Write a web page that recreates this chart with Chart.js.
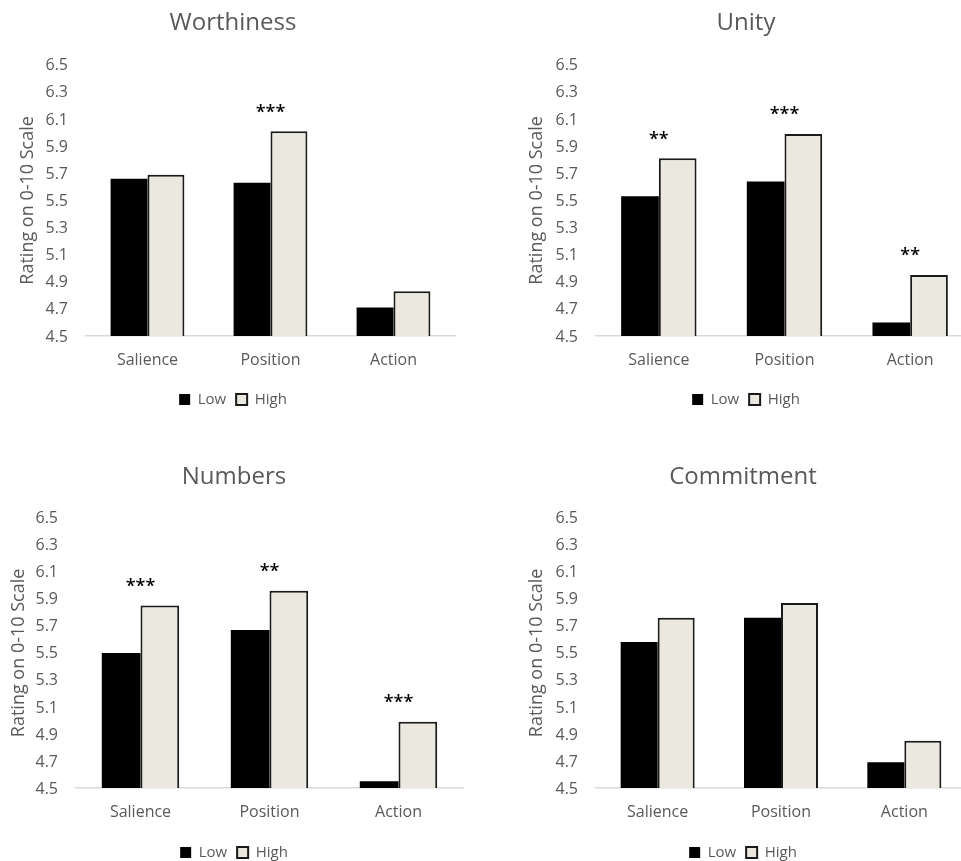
<!DOCTYPE html>
<html>
<head>
<meta charset="utf-8">
<title>Ratings by framing</title>
<script src="https://cdn.jsdelivr.net/npm/chart.js@4.4.1/dist/chart.umd.min.js"></script>
<style>
  html, body { margin: 0; padding: 0; background: #fff; overflow: hidden; }
  #wrap { position: relative; width: 961px; height: 861px; overflow: hidden; }
  #wrap canvas { position: absolute; }
</style>
</head>
<body>
<div id="wrap">
  <canvas id="c1"></canvas>
  <canvas id="c2"></canvas>
  <canvas id="c3"></canvas>
  <canvas id="c4"></canvas>
</div>
<script>
// data
const categories = ["Salience", "Position", "Action"];
const seriesNames = ["Low", "High"];

const worthLow = [5.66, 5.63, 4.71];
const worthHigh = [5.69, 6.01, 4.83];
const worthStars = ["", "***", ""];

const unityLow = [5.53, 5.64, 4.60];
const unityHigh = [5.81, 5.99, 4.95];
const unityStars = ["**", "***", "**"];

const numbersLow = [5.50, 5.67, 4.55];
const numbersHigh = [5.85, 5.96, 4.99];
const numbersStars = ["***", "**", "***"];

const commitLow = [5.58, 5.76, 4.69];
const commitHigh = [5.76, 5.87, 4.85];
const commitStars = ["", "", ""];

const yMin = 4.5;
const yMax = 6.5;
const yStep = 0.2;
const yTitle = "Rating on 0-10 Scale";

// layout per panel (canvas placement + paddings)
const panels = [
  { id: "c1", title: "Worthiness", low: worthLow, high: worthHigh, stars: worthStars,
    left: 0, top: 0, w: 480, h: 420, padL: 11, padR: 25, yW: 75, yTitlePad: 6, titleTop: 9, titleBottom: 27, xH: 46 },
  { id: "c2", title: "Unity", low: unityLow, high: unityHigh, stars: unityStars,
    left: 480, top: 0, w: 493, h: 420, padL: 39, padR: 0, yW: 77, yTitlePad: 7, titleTop: 9, titleBottom: 27, xH: 46 },
  { id: "c3", title: "Numbers", low: numbersLow, high: numbersHigh, stars: numbersStars,
    left: 0, top: 440, w: 480, h: 433, padL: 5, padR: 17, yW: 71, yTitlePad: 3, titleTop: 23, titleBottom: 26, xH: 47 },
  { id: "c4", title: "Commitment", low: commitLow, high: commitHigh, stars: commitStars,
    left: 480, top: 440, w: 486, h: 433, padL: 40, padR: 0, yW: 76, yTitlePad: 6, titleTop: 23, titleBottom: 26, xH: 47 }
];

const FONT = "'Open Sans', sans-serif";
const GREY = "#595959";
Chart.defaults.font.family = FONT;
Chart.defaults.color = GREY;

// significance stars above each category
const starsPlugin = {
  id: "stars",
  afterDatasetsDraw(chart, args, opts) {
    const { ctx, scales } = chart;
    const d0 = chart.data.datasets[0].data;
    const d1 = chart.data.datasets[1].data;
    ctx.save();
    ctx.font = "600 18px " + FONT;
    ctx.fillStyle = "#000";
    ctx.textAlign = "center";
    ctx.textBaseline = "alphabetic";
    opts.marks.forEach((s, i) => {
      if (!s) return;
      const x = scales.x.getPixelForValue(i);
      const top = scales.y.getPixelForValue(Math.max(d0[i], d1[i]));
      const m = ctx.measureText(s);
      const mid = (m.actualBoundingBoxAscent - m.actualBoundingBoxDescent) / 2;
      ctx.fillText(s, x, top - 23 + mid);
    });
    ctx.restore();
  }
};

function drawPanel(p) {
  const cv = document.getElementById(p.id);
  cv.width = p.w;
  cv.height = p.h;
  cv.style.left = p.left + "px";
  cv.style.top = p.top + "px";

  new Chart(cv, {
    type: "bar",
    data: {
      labels: categories,
      datasets: [
        { label: seriesNames[0], data: p.low, backgroundColor: "#000000", borderColor: "#000000", borderWidth: 0 },
        { label: seriesNames[1], data: p.high, backgroundColor: "#EAE8DF", borderColor: "#1a1a1a", borderWidth: 2 }
      ]
    },
    options: {
      responsive: false,
      devicePixelRatio: 1,
      animation: false,
      layout: { padding: { left: p.padL, right: p.padR, top: 0, bottom: 3 } },
      datasets: { bar: { categoryPercentage: 0.6, barPercentage: 1.0 } },
      plugins: {
        title: {
          display: true, text: p.title, color: GREY,
          font: { size: 24, weight: "normal" },
          padding: { top: p.titleTop, bottom: p.titleBottom }
        },
        legend: {
          position: "bottom",
          labels: { boxWidth: 11, boxHeight: 11, padding: 10, color: GREY, font: { size: 15 } }
        },
        tooltip: { enabled: false },
        stars: { marks: p.stars }
      },
      scales: {
        x: {
          grid: { display: false, drawTicks: false },
          border: { display: true, color: "#d9d9d9", width: 1.5 },
          ticks: { color: GREY, font: { size: 16 }, padding: 15 },
          afterFit: s => { s.height = p.xH; }
        },
        y: {
          min: yMin, max: yMax,
          grid: { display: false, drawTicks: false },
          border: { display: false },
          ticks: { stepSize: yStep, color: GREY, font: { size: 16 }, padding: 18, labelOffset: 1,
                   callback: v => Number(v).toFixed(1) },
          title: { display: true, text: yTitle, color: GREY, font: { size: 18 },
                   padding: { top: p.yTitlePad, bottom: 0 } },
          afterFit: s => { s.width = p.yW; }
        }
      }
    },
    plugins: [starsPlugin]
  });
}

panels.forEach(drawPanel);
</script>
</body>
</html>
